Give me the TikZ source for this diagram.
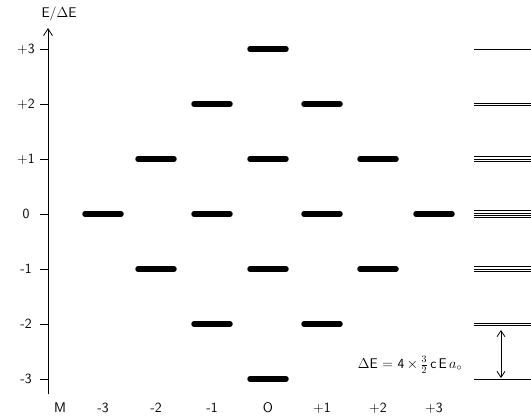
\documentclass[tikz,border=0pt]{standalone}
\usetikzlibrary{arrows.meta}
\begin{document}
\begin{tikzpicture}[x=1pt,y=-1pt,
  bar/.style={line width=5.5pt, line cap=round},
  lvl/.style={line width=0.8pt},
  tick/.style={line width=0.8pt},
  lab/.style={font=\sffamily\fontsize{14}{16}\selectfont, inner sep=0pt}]
\useasboundingbox (0,0) rectangle (531,416);
% axis
\coordinate (atop) at (48,28);
\coordinate (abot) at (48,394);
\draw[line width=0.8pt,-{Straight Barb[length=7pt,width=9pt]}] (abot) -- (atop);
\node[lab] (ylab) at (59,14) {E/$\Delta$E};
% ticks and labels
\foreach \v/\t in {3/+3,2/+2,1/+1,0/0,-1/-1,-2/-2,-3/-3}{
  \coordinate (t\v) at (40,214-55*\v);
  \coordinate (a\v) at (48,214-55*\v);
  \draw[tick] (t\v) -- (a\v);
  \node[lab] (tl\v) at (26,214-55*\v) {\t};
}
% column labels
\node[lab] (Mlab) at (60,408) {M};
\foreach \m/\t/\x in {-3/-3/103,-2/-2/156,-1/-1/212,0/O/268,1/+1/322,2/+2/378,3/+3/434}{
  \node[lab] (c\m) at (\x,408) {\t};
}
% bars
\foreach \x/\vs in {103/{0},156/{1,-1},212/{2,0,-2},268/{3,1,-1,-3},322/{2,0,-2},378/{1,-1},434/{0}}{
  \foreach \v in \vs {
    \draw[bar] (\x-18,214-55*\v) -- (\x+18,214-55*\v);
  }
}
% degenerate levels on the right
\foreach \v/\n in {3/1,2/2,1/3,0/4,-1/3,-2/2,-3/1}{
  \foreach \k in {1,...,\n}{
    \draw[lvl] (474,214-55*\v+2.2*\k-1.1*\n-1.1) -- (531,214-55*\v+2.2*\k-1.1*\n-1.1);
  }
}
\coordinate (dtop) at (501,330);
\coordinate (dbot) at (501,378);
\draw[line width=0.8pt,{Straight Barb[length=6pt,width=8pt]}-{Straight Barb[length=6pt,width=8pt]}] (dtop) -- (dbot);
\node[lab] (form) at (410,365) {$\Delta$E = 4$\,\times\,\frac{3}{2}\,$c\,E\,$a_{\circ}$};
\end{tikzpicture}
\end{document}
